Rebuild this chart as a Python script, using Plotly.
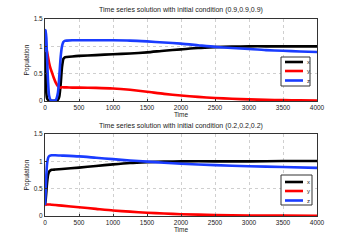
import plotly.graph_objects as go

# Top panel: initial condition (0.9,0.9,0.9)
t_top = [0, 10, 20, 30, 45, 60, 80, 100, 130, 160, 190, 210, 230, 250, 270, 290, 320,
         400, 500, 750, 1000, 1250, 1500, 1750, 2000, 2250, 2500, 2750, 3000, 3250,
         3500, 3750, 4000]
x_top = [0.9, 0.45, 0.15, 0.05, 0.02, 0.01, 0.005, 0.003, 0.003, 0.005, 0.02, 0.08,
         0.3, 0.62, 0.77, 0.8, 0.805, 0.815, 0.825, 0.84, 0.855, 0.87, 0.89, 0.92,
         0.945, 0.97, 0.985, 0.995, 1.0, 1.0, 1.0, 1.0, 1.0]
y_top = [0.9, 0.98, 0.96, 0.9, 0.8, 0.7, 0.6, 0.53, 0.42, 0.33, 0.27, 0.25, 0.245,
         0.25, 0.25, 0.25, 0.25, 0.245, 0.245, 0.24, 0.23, 0.205, 0.17, 0.13, 0.1,
         0.075, 0.055, 0.04, 0.03, 0.022, 0.016, 0.012, 0.01]
z_top = [0.9, 1.3, 1.15, 0.8, 0.35, 0.1, 0.02, 0.005, 0.005, 0.02, 0.15, 0.45, 0.8,
         1.0, 1.08, 1.1, 1.105, 1.11, 1.11, 1.11, 1.11, 1.105, 1.09, 1.07, 1.05,
         1.02, 0.99, 0.97, 0.95, 0.93, 0.92, 0.905, 0.895]

# Bottom panel: initial condition (0.2,0.2,0.2)
t_bot = [0, 10, 20, 30, 45, 60, 80, 100, 150, 250, 500, 750, 1000, 1250, 1500, 1750,
         2000, 2500, 3000, 3500, 4000]
x_bot = [0.2, 0.3, 0.45, 0.6, 0.75, 0.81, 0.835, 0.845, 0.85, 0.86, 0.885, 0.915,
         0.945, 0.97, 0.985, 0.995, 1.0, 1.0, 1.0, 1.005, 1.005]
y_bot = [0.2, 0.205, 0.21, 0.21, 0.21, 0.21, 0.21, 0.205, 0.2, 0.19, 0.16, 0.13, 0.1,
         0.08, 0.06, 0.045, 0.033, 0.018, 0.01, 0.006, 0.004]
z_bot = [0.2, 0.45, 0.75, 0.95, 1.06, 1.095, 1.105, 1.11, 1.11, 1.105, 1.09, 1.065,
         1.04, 1.015, 0.995, 0.975, 0.955, 0.93, 0.91, 0.895, 0.88]

series_names = ["x", "y", "z"]
colors = ["#000000", "#ff0000", "#1a3cff"]
x_ticks = [0, 500, 1000, 1500, 2000, 2500, 3000, 3500, 4000]
y_ticks = [0, 0.5, 1, 1.5]
titles = ["Time series solution with initial condition (0.9,0.9,0.9)",
          "Time series solution with initial condition (0.2,0.2,0.2)"]

W, H = 350, 244
FAM = "Liberation Sans, Arial, sans-serif"
font = dict(family=FAM, size=6.5, color="#222")

fig = go.Figure()
panels = [(t_top, [x_top, y_top, z_top], "x", "y"),
          (t_bot, [x_bot, y_bot, z_bot], "x2", "y2")]
for t, vals, xa, ya in panels:
    for name, v, c in zip(series_names, vals, colors):
        fig.add_trace(go.Scatter(x=t, y=v, mode="lines", name=name, xaxis=xa, yaxis=ya,
                                 showlegend=False,
                                 line=dict(color=c, width=2.6, shape="spline",
                                           smoothing=0.6)))

ax_common = dict(range=[0, 4000], tickvals=x_ticks, showline=True, linecolor="#333",
                 linewidth=1, mirror=True, ticks="inside", ticklen=2, tickcolor="#333",
                 showgrid=True, gridcolor="#cfcfcf", griddash="dot", gridwidth=1,
                 zeroline=False, tickfont=font, automargin=False,
                 title=dict(text="Time", font=font, standoff=0))
ay_common = dict(range=[0, 1.5], tickvals=y_ticks, showline=True, linecolor="#333",
                 linewidth=1, mirror=True, ticks="inside", ticklen=2, tickcolor="#333",
                 showgrid=True, gridcolor="#cfcfcf", griddash="dot", gridwidth=1,
                 zeroline=False, tickfont=font, automargin=False,
                 title=dict(text="Population", font=font, standoff=3))

xd = [45 / W, 317 / W]
fig.update_layout(
    width=W, height=H, margin=dict(l=0, r=0, t=0, b=0), autosize=False,
    paper_bgcolor="white", plot_bgcolor="white", font=font,
    xaxis=dict(domain=xd, anchor="y", **ax_common),
    yaxis=dict(domain=[1 - 101 / H, 1 - 19 / H], anchor="x", **ay_common),
    xaxis2=dict(domain=xd, anchor="y2", **ax_common),
    yaxis2=dict(domain=[1 - 216 / H, 1 - 134 / H], anchor="x2", **ay_common),
    showlegend=False,
)
title_font = dict(family=FAM, size=7, color="#222")
fig.add_annotation(text=titles[0], x=181 / W, y=1 - 10 / H, xref="paper", yref="paper",
                   showarrow=False, font=title_font, xanchor="center", yanchor="middle")
fig.add_annotation(text=titles[1], x=181 / W, y=1 - 126 / H, xref="paper", yref="paper",
                   showarrow=False, font=title_font, xanchor="center", yanchor="middle")

# Legend boxes (drawn in paper pixels): (left, right, top, bottom, line rows)
legends = [(281, 310, 57, 86, [62, 71, 80.5]),
           (281, 312, 175, 205, [182, 191, 200.5])]
for (lft, rgt, top, bot, rows) in legends:
    fig.add_shape(type="rect", xref="paper", yref="paper",
                  x0=lft / W, x1=rgt / W, y0=1 - bot / H, y1=1 - top / H,
                  line=dict(color="#333", width=1), fillcolor="white", layer="above")
    for name, c, ry in zip(series_names, colors, rows):
        fig.add_shape(type="line", xref="paper", yref="paper",
                      x0=(lft + 4) / W, x1=(lft + 22) / W, y0=1 - ry / H, y1=1 - ry / H,
                      line=dict(color=c, width=2.6), layer="above")
        fig.add_annotation(text=name, x=(lft + 24) / W, y=1 - ry / H, xref="paper",
                           yref="paper", showarrow=False, xanchor="left",
                           yanchor="middle", font=dict(family=FAM, size=6, color="#222"))

fig.write_html("out.html", config={"displayModeBar": False},
               post_script="document.body.style.margin='0';document.body.style.padding='0';")
